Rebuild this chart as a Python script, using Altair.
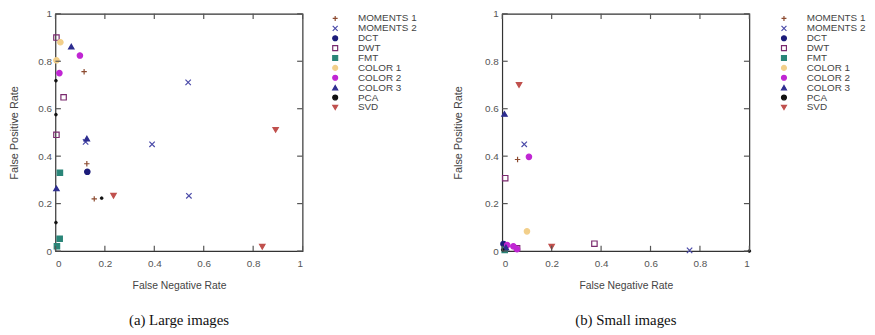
import altair as alt
import pandas as pd

# ---------------- data ----------------
methods = ["MOMENTS 1", "MOMENTS 2", "DCT", "DWT", "FMT",
           "COLOR 1", "COLOR 2", "COLOR 3", "PCA", "SVD"]
method_colors = ["#8c4a2f", "#4a4aa8", "#1c1c7a", "#7a2a6e", "#2a8578",
                 "#f2cf8a", "#c026d3", "#2d2d8f", "#111111", "#c0504d"]
method_fills = ["transparent", "transparent", "#1c1c7a", "transparent", "#2a8578",
                "#f2cf8a", "#c026d3", "#2d2d8f", "#111111", "#c0504d"]
method_shapes = ["M-1,0H1M0,-1V1", "M-1,-1L1,1M-1,1L1,-1", "circle", "square", "square",
                 "circle", "circle", "triangle-up", "circle", "triangle-down"]

large_method = ["MOMENTS 1", "MOMENTS 1", "MOMENTS 1",
                "MOMENTS 2", "MOMENTS 2", "MOMENTS 2", "MOMENTS 2",
                "DCT",
                "DWT", "DWT", "DWT",
                "FMT", "FMT", "FMT",
                "COLOR 1", "COLOR 1",
                "COLOR 2", "COLOR 2",
                "COLOR 3", "COLOR 3", "COLOR 3",
                "PCA", "PCA", "PCA", "PCA",
                "SVD", "SVD", "SVD"]
large_fnr = [0.116, 0.127, 0.157,
             0.537, 0.391, 0.540, 0.122,
             0.129,
             0.004, 0.033, 0.004,
             0.018, 0.017, 0.006,
             0.020, 0.004,
             0.099, 0.016,
             0.064, 0.127, 0.004,
             0.002, 0.002, 0.002, 0.187,
             0.891, 0.235, 0.837]
large_fpr = [0.756, 0.368, 0.220,
             0.711, 0.450, 0.233, 0.460,
             0.334,
             0.900, 0.648, 0.490,
             0.330, 0.052, 0.020,
             0.880, 0.804,
             0.824, 0.750,
             0.862, 0.474, 0.264,
             0.718, 0.575, 0.120, 0.223,
             0.511, 0.233, 0.018]

small_method = ["MOMENTS 1", "MOMENTS 1",
                "MOMENTS 2", "MOMENTS 2",
                "DCT",
                "DWT", "DWT", "DWT",
                "FMT",
                "COLOR 1",
                "COLOR 2", "COLOR 2", "COLOR 2", "COLOR 2",
                "COLOR 3", "COLOR 3",
                "PCA", "PCA",
                "SVD", "SVD"]
small_fnr = [0.062, 0.055,
             0.089, 0.758,
             0.005,
             0.012, 0.373, 0.060,
             0.010,
             0.100,
             0.108, 0.020, 0.045, 0.060,
             0.009, 0.015,
             0.002, 1.000,
             0.068, 0.200]
small_fpr = [0.386, 0.012,
             0.450, 0.003,
             0.030,
             0.307, 0.031, 0.012,
             0.005,
             0.083,
             0.397, 0.025, 0.020, 0.008,
             0.578, 0.015,
             0.005, 0.000,
             0.700, 0.018]

tick_values = [0, 0.2, 0.4, 0.6, 0.8, 1]

FONT = "Liberation Sans"
TICK_LEN = 0.022  # inward tick length, in data units


def build_table(method, fnr, fpr):
    pts = pd.DataFrame({"method": method, "fnr": fnr, "fpr": fpr})
    rows = []
    for t in tick_values:
        rows.append({"method": "TICK", "x1": t, "x2": t, "y1": 0.0, "y2": TICK_LEN})
        rows.append({"method": "TICK", "x1": t, "x2": t, "y1": 1.0, "y2": 1 - TICK_LEN})
        rows.append({"method": "TICK", "x1": 0.0, "x2": TICK_LEN, "y1": t, "y2": t})
        rows.append({"method": "TICK", "x1": 1.0, "x2": 1 - TICK_LEN, "y1": t, "y2": t})
    return pd.concat([pts, pd.DataFrame(rows)], ignore_index=True)


def panel(method, fnr, fpr, caption, title_pad, legend_x):
    df = build_table(method, fnr, fpr)

    xs = alt.Scale(domain=[0, 1], nice=False, zero=False)
    ys = alt.Scale(domain=[0, 1], nice=False, zero=False)

    x_axis = alt.Axis(values=tick_values, format="~g", title="False Negative Rate",
                      ticks=False, domain=False, grid=False, labelPadding=8,
                      labelFont=FONT, labelFontSize=10, labelColor="#555",
                      titleFont=FONT, titleFontSize=10.5, titleFontWeight="normal",
                      titleColor="#444", titlePadding=12)
    y_axis = alt.Axis(values=tick_values, format="~g", title="False Positive Rate",
                      ticks=False, domain=False, grid=False, labelPadding=4,
                      labelFont=FONT, labelFontSize=10, labelColor="#555",
                      titleFont=FONT, titleFontSize=11, titleFontWeight="normal",
                      titleColor="#444", titlePadding=title_pad)

    legend = alt.Legend(title=None, orient="none", legendX=legend_x, legendY=0,
                        labelFont=FONT, labelFontSize=10, labelColor="#444",
                        labelOffset=18, symbolSize=25, symbolStrokeWidth=1.2,
                        rowPadding=-3.1, clipHeight=9.4, padding=0)

    enc = dict(
        x=alt.X("fnr:Q", scale=xs, axis=x_axis),
        y=alt.Y("fpr:Q", scale=ys, axis=y_axis),
        shape=alt.Shape("method:N", scale=alt.Scale(domain=methods, range=method_shapes), legend=legend),
        stroke=alt.Stroke("method:N", scale=alt.Scale(domain=methods, range=method_colors), legend=legend),
        fill=alt.Fill("method:N", scale=alt.Scale(domain=methods, range=method_fills), legend=legend),
    )

    base = alt.Chart(df)
    main = base.transform_filter(
        alt.FieldOneOfPredicate(field="method", oneOf=[m for m in methods if m != "PCA"])
    ).mark_point(filled=False, opacity=1, fillOpacity=1, strokeWidth=1.2, size=30).encode(**enc)
    pca = base.transform_filter(alt.datum.method == "PCA").mark_point(
        filled=False, opacity=1, fillOpacity=1, strokeWidth=0.8, size=8).encode(**enc)

    rules = base.transform_filter(alt.datum.method == "TICK").mark_rule(
        color="#555555", strokeWidth=1.2, opacity=1).encode(
        x=alt.X("x1:Q", scale=xs, axis=x_axis), x2="x2:Q",
        y=alt.Y("y1:Q", scale=ys, axis=y_axis), y2="y2:Q",
    )

    return alt.layer(main, pca, rules).properties(
        width=250, height=240,
        title=alt.TitleParams(caption, orient="bottom", anchor="middle", frame="group",
                              font="Liberation Serif", fontSize=15, fontWeight="normal",
                              color="#111", offset=22),
    )


left_panel = panel(large_method, large_fnr, large_fpr, "(a) Large images", 18, 278)
right_panel = panel(small_method, small_fnr, small_fpr, "(b) Small images", 21, 280)

chart = alt.hconcat(left_panel, right_panel, spacing=34).resolve_scale(
    x="independent", y="independent", shape="independent", stroke="independent", fill="independent"
).resolve_legend(
    shape="independent", stroke="independent", fill="independent"
).configure_view(
    stroke="#333333", strokeWidth=1.2
).properties(
    padding={"left": 0, "top": -2, "right": 0, "bottom": 0},
    background="white",
)

chart.save("out.html", embed_options={"renderer": "svg", "actions": False})
